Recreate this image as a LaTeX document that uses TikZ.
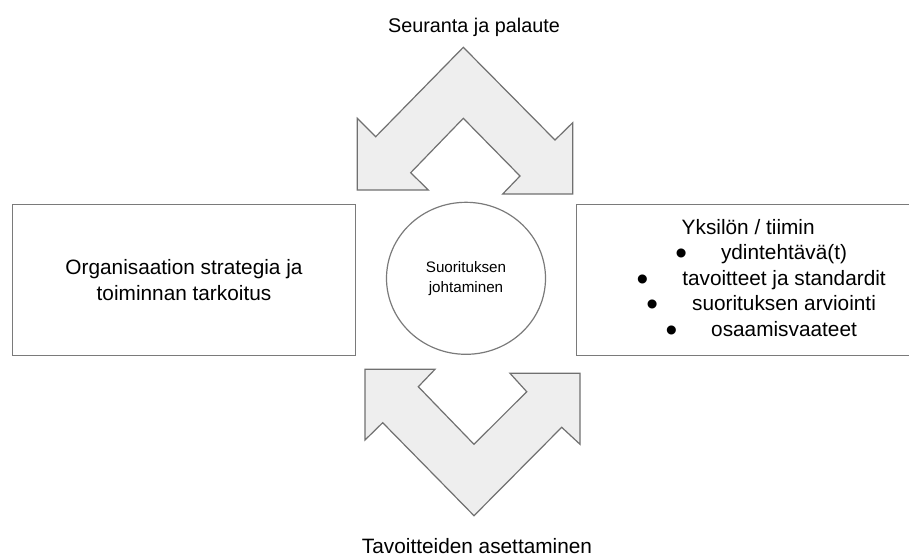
\documentclass[tikz,border=0pt]{standalone}
\usepackage{fontspec}
\setmainfont{Liberation Sans}
\usepackage{tikz}
\usetikzlibrary{shapes.geometric}

\definecolor{linegray}{HTML}{7A7A7A}
\definecolor{arrowfill}{HTML}{EEEEEE}
\definecolor{arrowline}{HTML}{707070}

\newcommand{\blt}{\hspace*{26pt}\raisebox{-5pt}{\scalebox{1.6}{\textbullet}}\hspace{34pt}}

\begin{document}
\begin{tikzpicture}[x=1pt,y=-1pt,
  box/.style={draw=linegray,line width=1.2pt,minimum width=343pt,minimum height=151pt,
    inner sep=0pt,align=center,font=\fontsize{20.8}{25.5}\selectfont},
  bigarrow/.style={draw=arrowline,fill=arrowfill,line width=1.2pt,line join=miter},
  sidetext/.style={anchor=base}]
\useasboundingbox (0,0) rectangle (909,558);

% the two turning arrows
\draw[bigarrow] (463.3,47.3) -- (555,140) -- (572.7,122.7) -- (572.7,194) -- (502.7,194)
  -- (520,176) -- (463.3,118.3) -- (410.7,172.7) -- (428.3,190) -- (357.3,190)
  -- (357.3,118.3) -- (375.7,136.7) -- cycle;
\draw[bigarrow] (365,369.3) -- (435,369.3) -- (418.3,386.7) -- (474,444.3) -- (526.7,391.7)
  -- (510,373.3) -- (580,373.3) -- (580,444.3) -- (561.7,427.3) -- (474,515.7)
  -- (382.7,422.7) -- (365,440) -- cycle;

\node[sidetext,font=\fontsize{19.8}{24}\selectfont] (seuranta) at (474,32) {Seuranta ja palaute};
\node[sidetext,font=\fontsize{20.8}{24}\selectfont] (tavoitteet) at (477,553) {Tavoitteiden asettaminen};

\node[box] (strategia) at (184,280) {Organisaation strategia ja\\toiminnan tarkoitus};
\node[box] (yksilo) at (748.2,280) {Yksilön / tiimin\\
  \blt ydintehtävä(t)\\
  \blt tavoitteet ja standardit\\
  \blt suorituksen arviointi\\
  \blt osaamisvaateet};

\node[ellipse,draw=linegray,line width=1.2pt,minimum width=159pt,minimum height=152pt,
  inner sep=0pt,align=center,font=\fontsize{15.2}{20}\selectfont]
  (johtaminen) at (466,278.3) {Suorituksen\\johtaminen};
\end{tikzpicture}
\end{document}
